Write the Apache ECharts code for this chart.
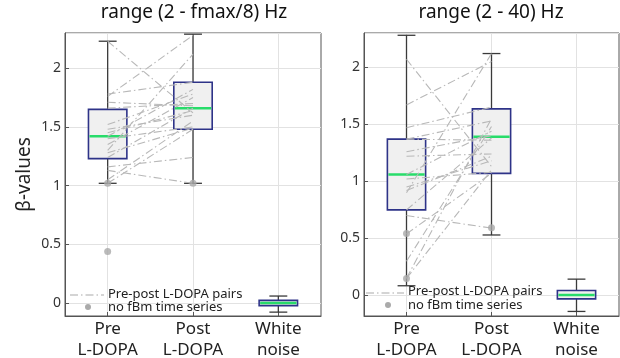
<!DOCTYPE html>
<html><head><meta charset="utf-8">
<script src="https://cdn.jsdelivr.net/npm/echarts@6/dist/echarts.min.js"></script>
<style>html,body{margin:0;padding:0;background:#fff}#c{width:620px;height:358px}</style>
</head><body><div id="c"></div>
<script>
// ---------- data ----------
const categories = ['Pre\nL-DOPA', 'Post\nL-DOPA', 'White\nnoise'];
const panelTitles = ['range (2 - fmax/8) Hz', 'range (2 - 40) Hz'];
const yAxisName = 'β-values';
const legendPairs = 'Pre-post L-DOPA pairs';
const legendNoFbm = 'no fBm time series';

// box statistics per category: [min, Q1, median, Q3, max]
const boxStatsLeft = [
  [1.02, 1.23, 1.42, 1.65, 2.23],
  [1.02, 1.48, 1.66, 1.88, 2.29],
  [-0.077, -0.022, 0.0, 0.023, 0.06]
];
const boxStatsRight = [
  [0.085, 0.75, 1.06, 1.37, 2.28],
  [0.53, 1.07, 1.39, 1.635, 2.12],
  [-0.14, -0.03, 0.003, 0.044, 0.143]
];

// paired subjects: pre value and post value
const preLeft  = [2.23, 1.76, 1.78, 1.71, 1.66, 1.30, 1.52, 1.48, 1.45, 1.42, 1.40, 1.35, 1.28, 1.24, 1.16, 1.13, 1.05, 1.02];
const postLeft = [1.62, 2.28, 1.88, 1.68, 1.70, 2.12, 1.78, 1.60, 1.64, 1.82, 1.50, 1.75, 1.49, 1.66, 1.24, 1.02, 1.55, 1.48];
const preRight  = [2.07, 1.67, 0.90, 1.47, 1.37, 1.37, 1.26, 1.22, 1.06, 1.02, 0.95, 0.92, 0.75, 0.70, 0.54, 0.30, 0.15, 0.15];
const postRight = [1.13, 2.05, 2.12, 1.65, 1.53, 1.36, 1.40, 1.24, 1.44, 1.08, 1.18, 1.22, 1.38, 0.59, 1.07, 1.48, 1.10, 1.55];

// "no fBm" points: [category index, value]
const noFbmLeft  = [[0, 1.02], [1, 1.02], [0, 0.44]];
const noFbmRight = [[0, 0.544], [0, 0.148], [1, 0.593]];

// y ranges
const yRangeLeft = [-0.11, 2.3];
const yRangeRight = [-0.18, 2.3];

// ---------- chart ----------
const FONT = '"Noto Sans", "DejaVu Sans", sans-serif';
const chart = echarts.init(document.getElementById('c'), null, {renderer: 'canvas'});

function boxRender(params, api) {
  const x = api.value(0);
  const v = [api.value(1), api.value(2), api.value(3), api.value(4), api.value(5)];
  const band = api.size([1, 0])[0];
  const bw = band * 0.45, cw = band * 0.21;
  const cx = api.coord([x, v[0]])[0];
  const y = v.map(val => api.coord([x, val])[1]);
  const whisk = {stroke: '#3a3a3a', lineWidth: 1.3};
  return {
    type: 'group',
    children: [
      {type: 'line', shape: {x1: cx, y1: y[4], x2: cx, y2: y[3]}, style: whisk},
      {type: 'line', shape: {x1: cx, y1: y[1], x2: cx, y2: y[0]}, style: whisk},
      {type: 'line', shape: {x1: cx - cw / 2, y1: y[4], x2: cx + cw / 2, y2: y[4]}, style: whisk},
      {type: 'line', shape: {x1: cx - cw / 2, y1: y[0], x2: cx + cw / 2, y2: y[0]}, style: whisk},
      {type: 'rect', shape: {x: cx - bw / 2, y: y[3], width: bw, height: y[1] - y[3]},
        style: {fill: '#f0f0f0', stroke: '#2e3388', lineWidth: 1.6}},
      {type: 'line', shape: {x1: cx - bw / 2 + 1, y1: y[2], x2: cx + bw / 2 - 1, y2: y[2]},
        style: {stroke: '#28dc6a', lineWidth: 2.5}}
    ]
  };
}

function panelSeries(idx, stats, pre, post, noFbm) {
  const out = [];
  out.push({
    type: 'custom', xAxisIndex: idx, yAxisIndex: idx, z: 2, silent: true,
    renderItem: boxRender,
    encode: {x: 0, y: [1, 2, 3, 4, 5]},
    data: stats.map((s, i) => [i].concat(s))
  });
  for (let i = 0; i < pre.length; i++) {
    out.push({
      type: 'line', xAxisIndex: idx, yAxisIndex: idx, z: 5, silent: true,
      symbol: 'none', animation: false,
      lineStyle: {color: '#b8b8b8', width: 1.1, type: [8, 3, 1.5, 3]},
      data: [[0, pre[i]], [1, post[i]]]
    });
  }
  out.push({
    type: 'scatter', xAxisIndex: idx, yAxisIndex: idx, z: 6, silent: true,
    symbolSize: 7, itemStyle: {color: '#a9a9a9'},
    data: noFbm
  });
  return out;
}

function xAx(idx) {
  return {
    type: 'category', gridIndex: idx, data: categories, boundaryGap: true,
    axisLine: {show: true, onZero: false, lineStyle: {color: '#555', width: 1}},
    axisTick: {show: true, inside: true, alignWithLabel: true, length: 4, lineStyle: {color: '#555'}},
    splitLine: {show: true, alignWithLabel: true, lineStyle: {color: '#e2e2e2', width: 1}},
    axisLabel: {fontSize: 17, color: '#222', lineHeight: 21, margin: 3, fontFamily: FONT}
  };
}
function yTicksAllowed(v) { return Math.abs(v * 2 - Math.round(v * 2)) < 1e-6; }
function yAx(idx, range, withName) {
  const a = {
    type: 'value', gridIndex: idx, min: range[0], max: range[1], splitNumber: 5,
    axisLine: {show: true, lineStyle: {color: '#555', width: 1}},
    axisTick: {show: true, inside: true, length: 4, lineStyle: {color: '#555'}},
    splitLine: {show: true, lineStyle: {color: '#e2e2e2', width: 1}},
    axisLabel: {
      fontSize: 14, color: '#333', margin: 4, fontFamily: FONT,
      showMinLabel: false, showMaxLabel: false,
      formatter: v => (yTicksAllowed(v) ? String(+v.toFixed(2)) : '')
    }
  };
  if (withName) {
    a.name = yAxisName; a.nameLocation = 'middle'; a.nameGap = 31;
    a.nameTextStyle = {fontSize: 19, color: '#222', fontFamily: FONT};
  }
  return a;
}

function legendGraphics(lx1, lx2, ly, dotX, dotY, tx, ty1, ty2) {
  return [
    {type: 'line', z: 10, shape: {x1: lx1, y1: ly, x2: lx2, y2: ly},
      style: {stroke: '#aaa', lineWidth: 1.2, lineDash: [8, 3, 1.5, 3]}},
    {type: 'circle', z: 10, shape: {cx: dotX, cy: dotY, r: 3}, style: {fill: '#aaa'}},
    {type: 'text', z: 10, x: tx, y: ty1, style: {text: legendPairs, font: '13px ' + FONT, fill: '#222', verticalAlign: 'middle'}},
    {type: 'text', z: 10, x: tx, y: ty2, style: {text: legendNoFbm, font: '13px ' + FONT, fill: '#222', verticalAlign: 'middle'}}
  ];
}

const option = {
  animation: false,
  backgroundColor: '#fff',
  textStyle: {fontFamily: FONT},
  title: [
    {text: panelTitles[0], left: 194, top: 3, textAlign: 'center', padding: 0,
      textStyle: {fontSize: 19, fontWeight: 'normal', color: '#111', fontFamily: FONT}},
    {text: panelTitles[1], left: 491, top: 3, textAlign: 'center', padding: 0,
      textStyle: {fontSize: 19, fontWeight: 'normal', color: '#111', fontFamily: FONT}}
  ],
  grid: [
    {left: 65, top: 33, width: 256, height: 283, show: true, borderColor: '#555', borderWidth: 1,
      outerBoundsMode: 'none', containLabel: false},
    {left: 364, top: 33, width: 255, height: 283, show: true, borderColor: '#555', borderWidth: 1,
      outerBoundsMode: 'none', containLabel: false}
  ],
  xAxis: [xAx(0), xAx(1)],
  yAxis: [yAx(0, yRangeLeft, true), yAx(1, yRangeRight, false)],
  series: [].concat(
    panelSeries(0, boxStatsLeft, preLeft, postLeft, noFbmLeft),
    panelSeries(1, boxStatsRight, preRight, postRight, noFbmRight)
  ),
  graphic: [].concat(
    legendGraphics(70, 104, 295, 88, 307, 108, 294, 307),
    legendGraphics(366, 404, 293, 388, 305, 408, 291.5, 305)
  )
};
chart.setOption(option);
</script>
</body></html>
